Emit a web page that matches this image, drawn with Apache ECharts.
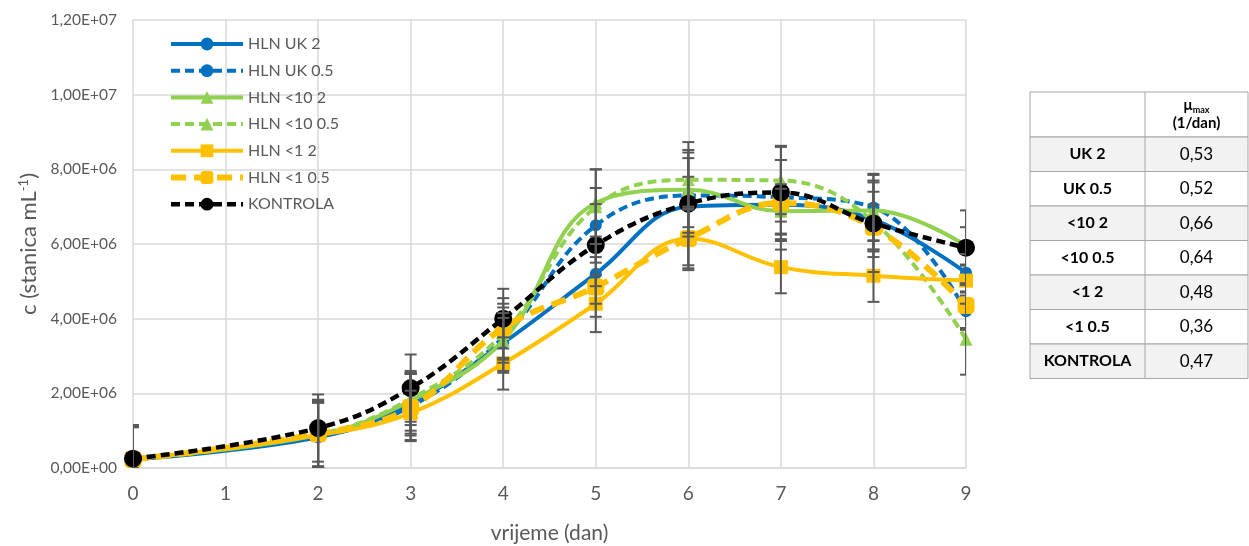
<!DOCTYPE html>
<html><head><meta charset="utf-8">
<script src="https://cdn.jsdelivr.net/npm/echarts@6/dist/echarts.min.js"></script>
<style>html,body{margin:0;padding:0;background:#fff}#c{width:1249px;height:546px}</style>
</head><body><div id="c"></div>
<script>
const days = [0,2,3,4,5,6,7,8,9];
const xTicks = [0,1,2,3,4,5,6,7,8,9];
const seriesNames = ['HLN UK 2','HLN UK 0.5','HLN <10 2','HLN <10 0.5','HLN <1 2','HLN <1 0.5','KONTROLA'];
const uk2    = [2.4e5, 0.82e6, 1.72e6, 3.35e6, 5.2e6, 7.0e6, 7.05e6, 6.65e6, 5.23e6];
const uk05   = [2.4e5, 0.85e6, 1.65e6, 3.5e6, 6.5e6, 7.3e6, 7.25e6, 6.98e6, 4.2e6];
const l10_2  = [2.5e5, 0.88e6, 1.8e6, 3.42e6, 7.1e6, 7.45e6, 6.88e6, 6.9e6, 5.95e6];
const l10_05 = [2.5e5, 0.9e6, 1.85e6, 3.6e6, 7.0e6, 7.72e6, 7.7e6, 6.6e6, 3.45e6];
const l1_2   = [2.3e5, 0.88e6, 1.47e6, 2.8e6, 4.4e6, 6.15e6, 5.38e6, 5.15e6, 5.02e6];
const l1_05  = [2.3e5, 0.92e6, 1.62e6, 3.75e6, 4.85e6, 6.15e6, 7.1e6, 6.45e6, 4.35e6];
const kontrola = [2.5e5, 1.07e6, 2.14e6, 4.0e6, 5.97e6, 7.08e6, 7.38e6, 6.55e6, 5.9e6];
const errUk2    = [0.9e6, 0.95e6, 0.8e6, 0.8e6, 0.8e6, 0.8e6, 1.2e6, 1.0e6, 0.5e6];
const errUk05   = [0.85e6, 0.9e6, 0.9e6, 0.9e6, 1.0e6, 1.0e6, 1.0e6, 0.9e6, 0.5e6];
const errL10_2  = [0.85e6, 0.95e6, 0.8e6, 0.6e6, 0.9e6, 1.0e6, 0.6e6, 0.8e6, 0.5e6];
const errL10_05 = [0.9e6, 0.85e6, 0.7e6, 0.7e6, 1.0e6, 0.8e6, 0.9e6, 0.8e6, 0.95e6];
const errL1_2   = [0.9e6, 0.9e6, 0.6e6, 0.7e6, 0.76e6, 0.85e6, 0.7e6, 0.7e6, 0.4e6];
const errL1_05  = [0.9e6, 0.9e6, 0.9e6, 0.8e6, 0.8e6, 0.8e6, 0.5e6, 0.6e6, 0.6e6];
const errKontrola = [0.9e6, 0.9e6, 0.9e6, 0.8e6, 1.1e6, 1.65e6, 1.25e6, 1.3e6, 1.0e6];
const tableLabels = ['UK 2','UK 0.5','<10 2','<10 0.5','<1 2','<1 0.5','KONTROLA'];
const muMax = ['0,53','0,52','0,66','0,64','0,48','0,36','0,47'];

const values = [uk2, uk05, l10_2, l10_05, l1_2, l1_05, kontrola];
const errors = [errUk2, errUk05, errL10_2, errL10_05, errL1_2, errL1_05, errKontrola];
const styles = [
  {color:'#0070C0', type:'solid', width:4, symbol:'circle', size:12},
  {color:'#0070C0', type:[9,5], width:4, symbol:'circle', size:12},
  {color:'#92D050', type:'solid', width:4, symbol:'triangle', size:13},
  {color:'#92D050', type:[9,5], width:4, symbol:'triangle', size:13},
  {color:'#FFC000', type:'solid', width:4, symbol:'rect', size:14},
  {color:'#FFC000', type:[15,8], width:6, symbol:'roundRect', size:17},
  {color:'#000000', type:[9,5], width:4.5, symbol:'circle', size:18}
];

function fmt(v){
  if (v === 0) return '0,00E+00';
  const e = Math.floor(Math.log10(v) + 1e-9);
  const m = v / Math.pow(10, e);
  return m.toFixed(2).replace('.', ',') + 'E+' + (e < 10 ? '0' + e : e);
}

const FONT = 'Lato, "Open Sans", sans-serif';
const series = [];
seriesNames.forEach((n, i) => {
  const st = styles[i];
  series.push({
    name: n, type: 'line', smooth: 0.4,
    data: days.map((d, k) => [d, values[i][k]]),
    symbol: st.symbol, symbolSize: st.size,
    lineStyle: {color: st.color, type: st.type, width: st.width},
    itemStyle: {color: st.color},
    z: 3 + i
  });
});
seriesNames.forEach((n, i) => {
  series.push({
    type: 'custom', name: n + ' err', clip: true, z: 10,
    data: days.map((d, k) => [d, values[i][k] - errors[i][k], values[i][k] + errors[i][k]]),
    renderItem: function(params, api){
      const x = api.value(0);
      const lo = api.coord([x, Math.max(0, api.value(1))]);
      const hi = api.coord([x, api.value(2)]);
      const w = 6;
      const st = {stroke:'#595959', lineWidth:2};
      return {type:'group', children:[
        {type:'line', shape:{x1:lo[0], y1:lo[1], x2:hi[0], y2:hi[1]}, style:st},
        {type:'line', shape:{x1:hi[0]-w, y1:hi[1], x2:hi[0]+w, y2:hi[1]}, style:st},
        {type:'line', shape:{x1:lo[0]-w, y1:lo[1], x2:lo[0]+w, y2:lo[1]}, style:st}
      ]};
    },
    tooltip: {show:false}
  });
});

// table graphics
const tx = 1030, ty = 92, c1 = 115, c2 = 103, hh = 45, rh = 34.5;
const graphic = [];
graphic.push({type:'rect', shape:{x:tx, y:ty, width:c1+c2, height:hh}, style:{fill:'#fff', stroke:'#A6A6A6', lineWidth:1}});
graphic.push({type:'text', x: tx+c1+c2/2, y: ty+hh/2, style:{
  text:'{b|μ}{s|max}\n{b|(1/dan)}', align:'center', verticalAlign:'middle',
  rich:{b:{fontFamily:FONT, fontWeight:'bold', fontSize:15, fill:'#000', lineHeight:18},
        s:{fontFamily:FONT, fontWeight:'bold', fontSize:9, fill:'#000', verticalAlign:'bottom', padding:[6,0,0,0]}}
}});
tableLabels.forEach((lab, i) => {
  const y = ty + hh + i*rh;
  const fill = i % 2 === 0 ? '#F2F2F2' : '#FFFFFF';
  graphic.push({type:'rect', shape:{x:tx, y:y, width:c1+c2, height:rh}, style:{fill:fill, stroke:'#A6A6A6', lineWidth:1}});
  graphic.push({type:'text', x: tx+c1/2, y: y+rh/2, style:{text:lab, align:'center', verticalAlign:'middle', fontFamily:FONT, fontWeight:'bold', fontSize:16, fill:'#000'}});
  graphic.push({type:'text', x: tx+c1+c2/2, y: y+rh/2, style:{text:muMax[i], align:'center', verticalAlign:'middle', fontFamily:FONT, fontSize:17, fill:'#000'}});
});
graphic.push({type:'line', shape:{x1:tx+c1, y1:ty, x2:tx+c1, y2:ty+hh+7*rh}, style:{stroke:'#A6A6A6', lineWidth:1}});

const chart = echarts.init(document.getElementById('c'));
chart.setOption({
  animation: false,
  backgroundColor: '#fff',
  textStyle: {fontFamily: FONT},
  grid: {left:133, right:283, top:20, bottom:78, containLabel:false, outerBoundsMode:'none'},
  legend: {
    data: seriesNames, orient:'vertical', left:163, top:31, itemWidth:72, itemHeight:16, itemGap:10.7,
    lineStyle:{width:'inherit'},
    textStyle:{color:'#595959', fontSize:16, fontFamily:FONT}
  },
  xAxis: {
    type:'value', min:0, max:9, interval:1,
    name:'vrijeme (dan)', nameLocation:'middle', nameGap:55,
    nameTextStyle:{color:'#595959', fontSize:21, fontFamily:FONT},
    axisLine:{show:true, lineStyle:{color:'#D9D9D9', width:1.5}},
    axisTick:{show:false},
    axisLabel:{color:'#595959', fontSize:19, margin:16, formatter: v => String(xTicks[v] !== undefined ? xTicks[v] : v)},
    splitLine:{show:true, lineStyle:{color:'#D9D9D9', width:1.5}}
  },
  yAxis: {
    type:'value', min:0, max:12e6, interval:2e6,
    name:'{n|c (stanica mL}{s|-1}{n|)}', nameLocation:'middle', nameGap:80, nameRotate:90,
    nameTextStyle:{color:'#595959', fontSize:22, fontFamily:FONT,
      rich:{n:{color:'#595959', fontSize:22, fontFamily:FONT}, s:{color:'#595959', fontSize:13, fontFamily:FONT, verticalAlign:'top', padding:[0,0,8,0]}}},
    axisLine:{show:false}, axisTick:{show:false},
    axisLabel:{color:'#595959', fontSize:15.5, margin:16, formatter: fmt},
    splitLine:{show:true, lineStyle:{color:'#D9D9D9', width:1.5}}
  },
  series: series,
  graphic: graphic
});
</script></body></html>
